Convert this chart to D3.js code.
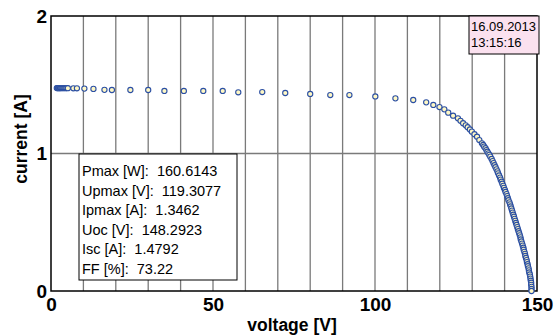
<!DOCTYPE html>
<html>
<head>
<meta charset="utf-8">
<script src="https://cdn.jsdelivr.net/npm/d3@7"></script>
<style>
  body { margin: 0; background: #fff; }
  svg { display: block; font-family: "Liberation Sans", Arial, sans-serif; }
</style>
</head>
<body>
<div id="chart"></div>
<script>
// measured I-V points: voltage [V]
const voltage = [
  1.8, 2.0, 2.2, 2.4, 2.6, 2.8, 3.0, 3.3, 3.6, 3.9, 4.2, 4.5, 4.8, 5.2,
  6.9, 8.0, 10.3, 13.1, 16.5, 18.8, 24.5, 30.0, 35.0, 41.0, 47.0, 53.0, 57.8,
  65.2, 72.3, 80.0, 86.2, 92.1, 100.1, 106.3, 111.8, 115.8, 118.0, 119.9,
  121.4, 122.6, 124.1, 125.6, 126.4, 127.2, 128.0, 128.6, 129.3, 129.9, 130.7,
  131.5, 132.2, 133.0, 133.4, 133.7, 134.1, 134.4, 134.7, 135.0, 135.3,
  135.6, 136.0, 136.3, 136.6, 136.9, 137.2, 137.5, 137.8, 138.0, 138.3,
  138.6, 138.8, 139.1, 139.3, 139.6, 139.8, 140.1, 140.3, 140.6, 140.8,
  141.0, 141.2, 141.5, 141.7, 141.9, 142.1, 142.3, 142.5, 142.7, 142.9,
  143.1, 143.3, 143.5, 143.7, 143.9, 144.1, 144.3, 144.5, 144.7, 144.9,
  145.0, 145.2, 145.4, 145.6, 145.8, 145.9, 146.1, 146.3, 146.4, 146.6,
  146.8, 146.9, 147.1, 147.2, 147.4, 147.5, 147.6, 147.8, 147.9, 148.0,
  148.1, 148.2, 148.2, 148.3, 148.3, 148.3
];
// current [A]
const current = [
  1.476, 1.476, 1.476, 1.476, 1.476, 1.476, 1.476, 1.476, 1.476, 1.476, 1.476, 1.476, 1.476, 1.475,
  1.474, 1.474, 1.472, 1.470, 1.463, 1.462, 1.462, 1.462, 1.455, 1.455, 1.455, 1.455, 1.445,
  1.447, 1.440, 1.433, 1.425, 1.425, 1.415, 1.401, 1.389, 1.372, 1.353, 1.338,
  1.321, 1.297, 1.275, 1.256, 1.238, 1.220, 1.205, 1.191, 1.175, 1.159, 1.140,
  1.122, 1.098, 1.074, 1.062, 1.050, 1.038, 1.025, 1.013, 1.001, 0.990,
  0.977, 0.960, 0.945, 0.930, 0.915, 0.900, 0.885, 0.870, 0.856, 0.840,
  0.825, 0.810, 0.795, 0.780, 0.765, 0.750, 0.735, 0.720, 0.705, 0.690,
  0.675, 0.660, 0.645, 0.630, 0.615, 0.600, 0.585, 0.570, 0.555, 0.540,
  0.525, 0.510, 0.495, 0.480, 0.465, 0.450, 0.435, 0.420, 0.405, 0.390,
  0.375, 0.360, 0.345, 0.330, 0.315, 0.300, 0.285, 0.270, 0.255, 0.240,
  0.225, 0.210, 0.195, 0.180, 0.165, 0.150, 0.135, 0.120, 0.105, 0.090,
  0.075, 0.060, 0.045, 0.030, 0.015, 0.000
];

const xTicks = [0, 50, 100, 150];
const yTicks = [0, 1, 2];
const xGrid = [10, 20, 30, 40, 50, 60, 70, 80, 90, 100, 110, 120, 130, 140];
const yGrid = [1];

const infoLines = [
  "Pmax [W]:  160.6143",
  "Upmax [V]:  119.3077",
  "Ipmax [A]:  1.3462",
  "Uoc [V]:  148.2923",
  "Isc [A]:  1.4792",
  "FF [%]:  73.22"
];
const stampLines = ["16.09.2013", "13:15:16"];

const width = 558, height = 336;
const margin = { top: 16, right: 21, bottom: 45, left: 51 };
const innerW = width - margin.left - margin.right;
const innerH = height - margin.top - margin.bottom;

const svg = d3.select("#chart").append("svg")
  .attr("width", width)
  .attr("height", height);

const g = svg.append("g")
  .attr("transform", `translate(${margin.left},${margin.top})`);

const x = d3.scaleLinear().domain([0, 150]).range([0, innerW]);
const y = d3.scaleLinear().domain([0, 2]).range([innerH, 0]);

// grid
g.selectAll(".vgrid").data(xGrid).enter().append("line")
  .attr("x1", d => x(d)).attr("x2", d => x(d))
  .attr("y1", 0).attr("y2", innerH)
  .attr("stroke", "#7a7a7a").attr("stroke-width", 1.3);

g.selectAll(".hgrid").data(yGrid).enter().append("line")
  .attr("x1", 0).attr("x2", innerW)
  .attr("y1", d => y(d)).attr("y2", d => y(d))
  .attr("stroke", "#7a7a7a").attr("stroke-width", 1.3);

// frame
g.append("rect")
  .attr("width", innerW).attr("height", innerH)
  .attr("fill", "none").attr("stroke", "#000").attr("stroke-width", 1.5);

// axes (labels only)
const xAxis = g.append("g")
  .attr("transform", `translate(0,${innerH})`)
  .call(d3.axisBottom(x).tickValues(xTicks).tickFormat(d3.format("d")).tickSize(0).tickPadding(7));
xAxis.select(".domain").remove();
xAxis.selectAll("text")
  .attr("font-family", "Liberation Sans, Arial, sans-serif")
  .attr("font-size", 19).attr("font-weight", "bold").attr("fill", "#000");

const yAxis = g.append("g")
  .call(d3.axisLeft(y).tickValues(yTicks).tickFormat(d3.format("d")).tickSize(0).tickPadding(4));
yAxis.select(".domain").remove();
yAxis.selectAll("text")
  .attr("font-family", "Liberation Sans, Arial, sans-serif")
  .attr("font-size", 19).attr("font-weight", "bold").attr("fill", "#000");

// axis titles
svg.append("text")
  .attr("x", margin.left + innerW / 2 - 2)
  .attr("y", 331)
  .attr("text-anchor", "middle")
  .attr("font-size", 17.5).attr("font-weight", "bold")
  .text("voltage [V]");

svg.append("text")
  .attr("transform", "translate(27,139) rotate(-90)")
  .attr("text-anchor", "middle")
  .attr("font-size", 17.5).attr("font-weight", "bold")
  .text("current [A]");

// data points
const points = voltage.map((v, i) => ({ v: v, i: current[i] }));
g.selectAll(".pt").data(points).enter().append("circle")
  .attr("cx", d => x(d.v))
  .attr("cy", d => y(d.i))
  .attr("r", 2.6)
  .attr("fill", "#fff8c4")
  .attr("stroke", "#2b4fa3")
  .attr("stroke-width", 1.1);

// info box
const info = svg.append("g").attr("transform", "translate(79,154)");
info.append("rect")
  .attr("width", 158).attr("height", 126)
  .attr("fill", "#fff").attr("stroke", "#000").attr("stroke-width", 1);
info.selectAll("text").data(infoLines).enter().append("text")
  .attr("x", 3)
  .attr("y", (d, i) => 22 + i * 19.5)
  .attr("font-size", 14.5)
  .attr("fill", "#000")
  .style("white-space", "pre")
  .text(d => d);

// timestamp box
const stamp = svg.append("g").attr("transform", "translate(469,16)");
stamp.append("rect")
  .attr("width", 70).attr("height", 38)
  .attr("fill", "#fbe1ef").attr("stroke", "#000").attr("stroke-width", 1);
stamp.selectAll("text").data(stampLines).enter().append("text")
  .attr("x", 2)
  .attr("y", (d, i) => 15 + i * 16)
  .attr("font-size", 13)
  .attr("fill", "#000")
  .text(d => d);
</script>
</body>
</html>
